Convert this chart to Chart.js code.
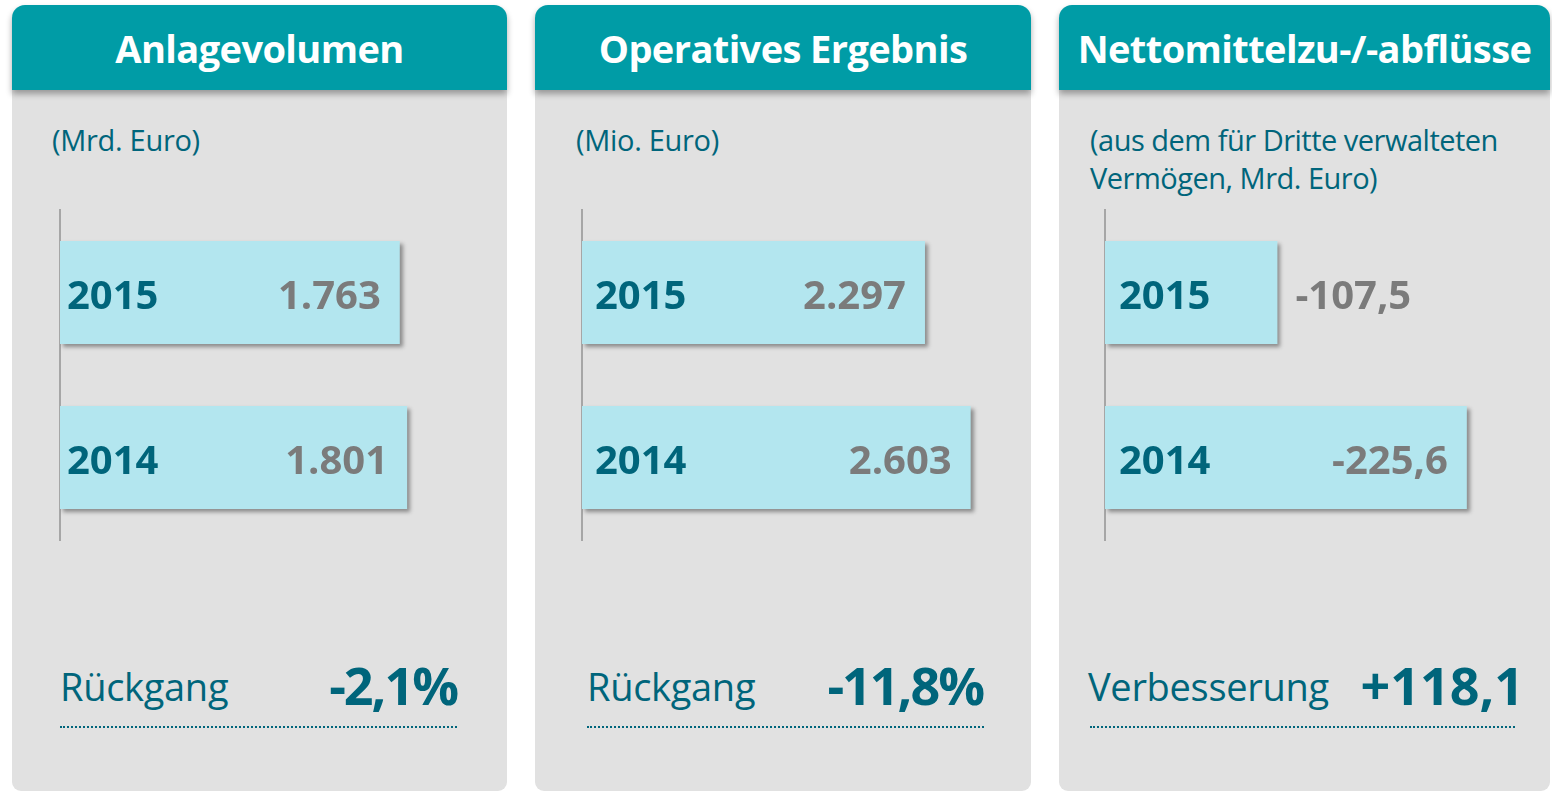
<!DOCTYPE html>
<html><head><meta charset="utf-8">
<script src="https://cdn.jsdelivr.net/npm/chart.js@4/dist/chart.umd.min.js"></script>
<style>
html,body{margin:0;padding:0;background:#fff;}
#root{position:relative;width:1552px;height:793px;overflow:hidden;font-family:"Open Sans",sans-serif;color:#00657b;}
.panel{position:absolute;top:5px;height:786px;}
.head{position:absolute;left:0;top:0;right:0;height:85px;background:#009ca6;border-radius:13px 13px 0 0;box-shadow:0 4px 6px rgba(0,0,0,.33);z-index:2;}
.title{position:absolute;left:0;right:0;top:24px;text-align:center;color:#fff;font-weight:700;font-size:38px;line-height:38px;letter-spacing:-0.6px;white-space:nowrap;}
.body{position:absolute;left:0;right:0;top:85px;bottom:0;background:#e1e1e1;border-radius:0 0 9px 9px;}
.sub{position:absolute;font-size:29px;line-height:38px;white-space:nowrap;letter-spacing:-0.3px;}
.blabel{position:absolute;font-size:38px;line-height:38px;white-space:nowrap;top:667px;letter-spacing:-0.3px;}
.bval{position:absolute;font-size:52px;line-height:52px;font-weight:700;white-space:nowrap;top:659px;text-align:right;letter-spacing:-2px;}
.dots{position:absolute;top:726px;height:0;border-top:2px dotted #00657b;}
canvas{position:absolute;top:200px;}
</style></head>
<body><div id="root">
  <div class="panel" style="left:12px;width:495px;"><div class="head"><div class="title" id="t0"></div></div><div class="body"></div></div>
  <div class="panel" style="left:535px;width:496px;"><div class="head"><div class="title" id="t1"></div></div><div class="body"></div></div>
  <div class="panel" style="left:1059px;width:491px;"><div class="head"><div class="title" id="t2"></div></div><div class="body"></div></div>

  <div class="sub" style="left:52px;top:121px;" id="s0"></div>
  <div class="sub" style="left:576px;top:121px;" id="s1"></div>
  <div class="sub" style="left:1090px;top:121px;letter-spacing:-0.5px;" id="s2"></div>

  <canvas id="c0" width="495" height="360" style="left:12px;"></canvas>
  <canvas id="c1" width="496" height="360" style="left:535px;"></canvas>
  <canvas id="c2" width="491" height="360" style="left:1059px;"></canvas>

  <div class="blabel" style="left:60px;" id="b0"></div>
  <div class="blabel" style="left:587px;" id="b1"></div>
  <div class="blabel" style="left:1088px;" id="b2"></div>
  <div class="bval" style="right:1095px;" id="v0"></div>
  <div class="bval" style="right:569px;" id="v1"></div>
  <div class="bval" style="right:28px;letter-spacing:0px;" id="v2"></div>
  <div class="dots" style="left:60px;width:397px;"></div>
  <div class="dots" style="left:587px;width:397px;"></div>
  <div class="dots" style="left:1090px;width:425px;"></div>
</div>
<script>
// ---- data ----
const titles = ["Anlagevolumen", "Operatives Ergebnis", "Nettomittelzu-/-abflüsse"];
const subtitles = ["(Mrd. Euro)", "(Mio. Euro)", "(aus dem für Dritte verwalteten<br>Vermögen, Mrd. Euro)"];
const years = ["2015", "2014"];
const anlagevolumen = [1763, 1801];
const operativesErgebnis = [2297, 2603];
const nettomittel = [-107.5, -225.6];
const changeLabels = ["Rückgang", "Rückgang", "Verbesserung"];
const changeValues = ["-2,1%", "-11,8%", "+118,1"];
const decimals = [0, 0, 1];

titles.forEach((t,i)=>document.getElementById('t'+i).textContent=t);
subtitles.forEach((t,i)=>document.getElementById('s'+i).innerHTML=t);
changeLabels.forEach((t,i)=>document.getElementById('b'+i).textContent=t);
changeValues.forEach((t,i)=>document.getElementById('v'+i).textContent=t);

function fmtDE(v, dec){
  const neg = v < 0;
  const s = Math.abs(v).toFixed(dec);
  let [ip, fp] = s.split('.');
  ip = ip.replace(/\B(?=(\d{3})+(?!\d))/g, '.');
  return (neg ? '-' : '') + ip + (fp ? ',' + fp : '');
}

const shadowPlugin = {
  id:'barShadow',
  beforeDatasetsDraw(c){ const x=c.ctx; x.save(); x.shadowColor='rgba(0,0,0,0.38)'; x.shadowBlur=4; x.shadowOffsetX=3; x.shadowOffsetY=3; },
  afterDatasetsDraw(c){ c.ctx.restore(); }
};
const labelPlugin = {
  id:'barLabels',
  afterDatasetsDraw(c, args, opts){
    const ctx = c.ctx; const meta = c.getDatasetMeta(0);
    meta.data.forEach((bar,i)=>{
      const l = Math.min(bar.x, bar.base), r = Math.max(bar.x, bar.base);
      ctx.save();
      ctx.font = '700 40px "Open Sans"';
      ctx.textBaseline = 'alphabetic';
      ctx.fillStyle = '#00657b'; ctx.textAlign = 'left';
      const yr = c.data.labels[i];
      ctx.fillText(yr, l + opts.pad, bar.y + 16);
      const yw = ctx.measureText(yr).width;
      const txt = fmtDE(c.data.datasets[0].data[i], opts.dec);
      const w = ctx.measureText(txt).width;
      ctx.fillStyle = '#7b7b7b';
      if (r - 19 - w > l + opts.pad + yw + 20) { ctx.textAlign = 'right'; ctx.fillText(txt, r - 19, bar.y + 16); }
      else { ctx.textAlign = 'left'; ctx.fillText(txt, r + 18, bar.y + 16); }
      ctx.restore();
    });
  }
};

function makeChart(id, values, padL, padR, xmin, xmax, reverse, dec, textPad){
  return new Chart(document.getElementById(id), {
    type:'bar',
    data:{ labels: years, datasets:[{ data: values, backgroundColor:'#b3e6ef', borderWidth:0, barPercentage:0.624, categoryPercentage:1 }]},
    options:{
      indexAxis:'y', responsive:false, animation:false, maintainAspectRatio:false,
      layout:{ padding:{ left:padL, right:padR, top:10, bottom:20 } },
      plugins:{ legend:{display:false}, tooltip:{enabled:false}, barLabels:{dec:dec, pad:textPad} },
      scales:{
        x:{ display:false, min:xmin, max:xmax, reverse:reverse },
        y:{ z:1, ticks:{display:false}, grid:{display:false, drawTicks:false},
            border:{display:true, color:'#a6a6a6', width:2},
            afterFit(s){ s.width = 0; } }
      }
    },
    plugins:[shadowPlugin, labelPlugin]
  });
}
makeChart('c0', anlagevolumen, 48, 23, 0, 2200, false, decimals[0], 7);
makeChart('c1', operativesErgebnis, 47, 16, 0, 2900, false, decimals[1], 13);
makeChart('c2', nettomittel, 46, 28, -260, 0, true, decimals[2], 14);
</script>
</body></html>
